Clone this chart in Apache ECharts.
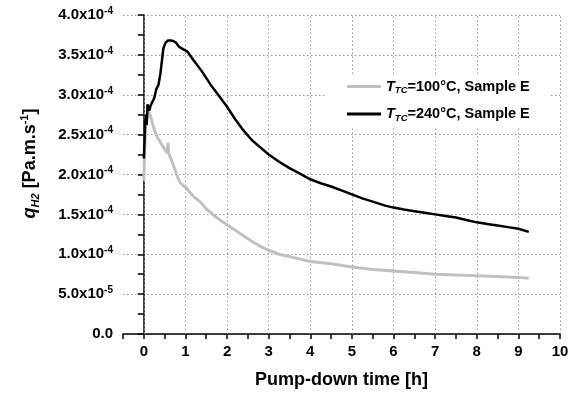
<!DOCTYPE html>
<html>
<head>
<meta charset="utf-8">
<script src="https://cdn.jsdelivr.net/npm/echarts@6/dist/echarts.min.js"></script>
<style>
html,body{margin:0;padding:0;background:#fff;}
#chart{width:575px;height:394px;}
</style>
</head>
<body>
<div id="chart"></div>
<script>
// Pump-down time [h]
var time100 = [0.00,0.01,0.02,0.04,0.06,0.08,0.10,0.13,0.17,0.22,0.26,0.32,0.38,0.45,0.52,0.56,0.58,0.60,0.65,0.72,0.80,0.87,0.95,1.03,1.10,1.20,1.35,1.50,1.70,1.83,2.00,2.20,2.40,2.60,2.80,3.00,3.25,3.50,3.75,4.00,4.50,5.00,5.50,6.00,6.50,7.00,7.50,8.00,8.50,9.00,9.25];
// q_H2 in units of 1e-4 Pa.m.s^-1
var q100 = [1.92,2.10,2.25,2.60,2.75,2.70,2.80,2.78,2.72,2.62,2.55,2.47,2.42,2.36,2.30,2.27,2.40,2.26,2.20,2.10,1.98,1.90,1.86,1.83,1.78,1.72,1.66,1.57,1.48,1.43,1.37,1.30,1.23,1.16,1.10,1.05,1.00,0.97,0.94,0.91,0.88,0.84,0.81,0.79,0.77,0.75,0.74,0.73,0.72,0.71,0.70];

var time240 = [0.00,0.01,0.03,0.05,0.07,0.09,0.11,0.13,0.16,0.20,0.25,0.30,0.35,0.40,0.44,0.47,0.52,0.58,0.66,0.72,0.78,0.85,0.95,1.05,1.20,1.40,1.60,1.80,2.00,2.20,2.40,2.60,2.80,3.00,3.25,3.50,3.75,4.00,4.25,4.50,4.75,5.00,5.25,5.50,5.80,6.00,6.25,6.50,6.75,7.00,7.25,7.50,7.75,8.00,8.25,8.50,8.75,9.00,9.25];
var q240 = [2.20,2.32,2.62,2.75,2.62,2.88,2.90,2.80,2.86,2.84,2.96,3.07,3.12,3.27,3.45,3.58,3.65,3.68,3.68,3.67,3.65,3.60,3.57,3.54,3.43,3.29,3.13,2.99,2.85,2.69,2.55,2.43,2.34,2.25,2.16,2.08,2.01,1.94,1.89,1.85,1.80,1.75,1.70,1.66,1.61,1.585,1.56,1.54,1.52,1.50,1.48,1.46,1.43,1.40,1.38,1.36,1.34,1.32,1.28];

var seriesNames = ['T_TC=100°C, Sample E', 'T_TC=240°C, Sample E'];
var xGridValues = [0,1,2,3,4,5,6,7,8,9,10];

function pairs(t, q){ var out=[]; for(var i=0;i<t.length;i++){ out.push([t[i], q[i]]); } return out; }

var FONT = '"Liberation Sans", Arial, sans-serif';
var chart = echarts.init(document.getElementById('chart'), null, {renderer:'canvas'});

function yLabel(v){
  if (Math.abs(v) < 1e-9) return '{m|0.0}';
  var real = v * 1e-4;
  var e = Math.floor(Math.log10(real) + 1e-9);
  var m = real / Math.pow(10, e);
  return '{m|' + m.toFixed(1) + 'x10}{e|' + e + '}';
}

var option = {
  animation: false,
  backgroundColor: '#fff',
  grid: { left: 123, right: 15, top: 15, bottom: 59, containLabel: false },
  legend: {
    orient: 'vertical',
    left: 327, top: 75,
    padding: [4, 20, 4, 20],
    itemGap: 11,
    itemWidth: 34, itemHeight: 3,
    icon: 'rect',
    backgroundColor: '#fff',
    data: seriesNames,
    formatter: function(name){
      var rest = name.split('=')[1];
      return '{i|T}{s|TC}{b|=' + rest + '}';
    },
    textStyle: {
      color: '#000',
      rich: {
        i: { fontFamily: FONT, fontSize: 14.5, fontWeight: 'bold', fontStyle: 'italic', lineHeight: 18 },
        s: { fontFamily: FONT, fontSize: 9.5, fontWeight: 'bold', fontStyle: 'italic', verticalAlign: 'bottom', lineHeight: 10 },
        b: { fontFamily: FONT, fontSize: 14.5, fontWeight: 'bold', lineHeight: 18 }
      }
    }
  },
  xAxis: {
    type: 'value',
    min: -0.5, max: 10, interval: 0.5,
    name: 'Pump-down time [h]',
    nameLocation: 'middle',
    nameGap: 37,
    nameTextStyle: { fontFamily: FONT, fontSize: 18, fontWeight: 'bold', color: '#000' },
    axisLine: { show: true, lineStyle: { color: '#000', width: 1.5 } },
    axisTick: { show: true, inside: false, length: 5, lineStyle: { color: '#000', width: 1.5 } },
    axisLabel: {
      margin: 10,
      fontFamily: FONT, fontSize: 15, fontWeight: 'bold', color: '#000',
      formatter: function(v){ return (Math.abs(v - Math.round(v)) < 1e-9) ? String(Math.round(v)) : ''; }
    },
    splitLine: { show: false }
  },
  yAxis: {
    type: 'value',
    min: 0, max: 4, interval: 0.5,
    name: '{q|q}{sub|H2}{t| [Pa.m.s}{sup|-1}{t|]}',
    nameLocation: 'middle',
    nameRotate: 90,
    nameGap: 82,
    nameTextStyle: {
      color: '#000',
      padding: [0, 0, 0, 22],
      rich: {
        q: { fontFamily: FONT, fontSize: 18, fontWeight: 'bold', fontStyle: 'italic', lineHeight: 22 },
        sub: { fontFamily: FONT, fontSize: 11, fontWeight: 'bold', fontStyle: 'italic', verticalAlign: 'bottom', lineHeight: 12 },
        t: { fontFamily: FONT, fontSize: 18, fontWeight: 'bold', lineHeight: 22 },
        sup: { fontFamily: FONT, fontSize: 11, fontWeight: 'bold', verticalAlign: 'top', lineHeight: 12 }
      }
    },
    axisLine: { show: true, lineStyle: { color: '#000', width: 1.5 } },
    axisTick: { show: true, inside: false, length: 6, lineStyle: { color: '#000', width: 1.5 } },
    minorTick: { show: true, splitNumber: 2, length: 6, lineStyle: { color: '#000', width: 1.5 } },
    axisLabel: {
      margin: 10,
      formatter: yLabel,
      rich: {
        m: { fontFamily: FONT, fontSize: 15, fontWeight: 'bold', color: '#000', lineHeight: 18 },
        e: { fontFamily: FONT, fontSize: 10, fontWeight: 'bold', color: '#000', verticalAlign: 'top', lineHeight: 10 }
      }
    },
    splitLine: { show: true, lineStyle: { color: '#999', width: 1, type: [1.5, 2.5] } }
  },
  series: [
    {
      name: seriesNames[0],
      type: 'line',
      data: pairs(time100, q100),
      showSymbol: false,
      symbol: 'none',
      color: '#c0c0c0',
      lineStyle: { color: '#c0c0c0', width: 3 },
      z: 3
    },
    {
      name: seriesNames[1],
      type: 'line',
      data: pairs(time240, q240),
      showSymbol: false,
      symbol: 'none',
      color: '#000',
      lineStyle: { color: '#000', width: 2.5 },
      z: 4,
      markLine: {
        silent: true,
        symbol: ['none','none'],
        label: { show: false },
        lineStyle: { color: '#999', width: 1, type: [1.5, 2.5] },
        z: 1,
        data: xGridValues.map(function(v){ return { xAxis: v }; })
      }
    }
  ]
};
chart.setOption(option);
</script>
</body>
</html>
